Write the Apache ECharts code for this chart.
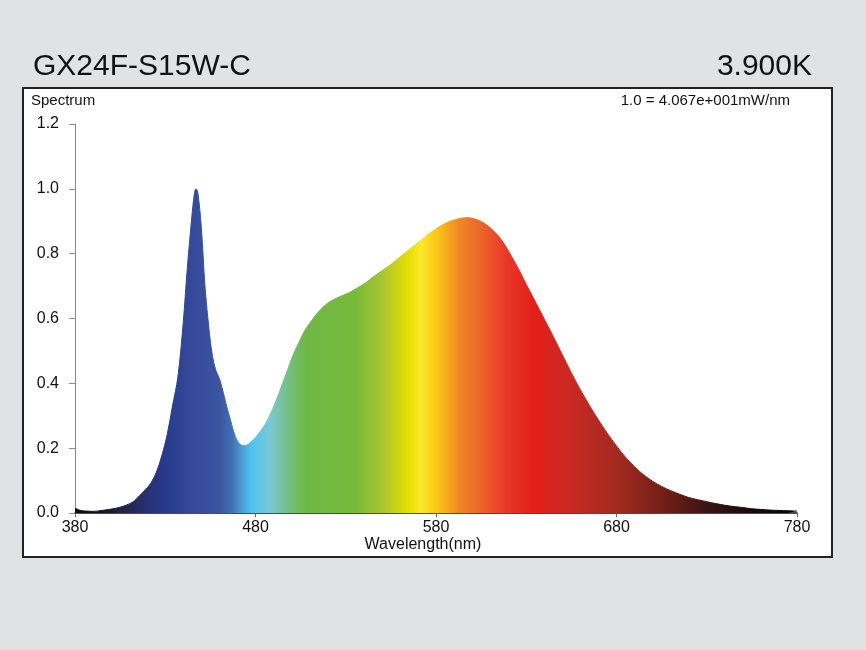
<!DOCTYPE html>
<html lang="en">

<head>
    <meta charset="UTF-8">
    <title>spectrum</title>
    <style>
        html,
        body,
        #chart {
            margin: 0;
            padding: 0;
            overflow: hidden;
            width: 100%;
            height: 100%;
            background: #e1e2e4;
        }
    </style>
</head>

<body>
    <div id="chart"></div>
    <script src="https://cdn.jsdelivr.net/npm/echarts@6/dist/echarts.min.js"></script>
    <script>
        var modelName = "GX24F-S15W-C";
        var cctText = "3.900K";
        var scaleText = "1.0 = 4.067e+001mW/nm";

        // wavelength (nm) and relative intensity
        var wavelengths = [380, 383, 386, 390, 395, 400, 405, 410, 413, 416, 419, 422, 425, 428, 431, 434, 437, 440, 442, 444, 446, 447, 448, 450, 452, 454, 456, 458, 460, 462, 464, 466, 468, 470, 472, 474, 476, 478, 480, 483, 486, 489, 492, 495, 498, 501, 504, 507, 510, 514, 518, 522, 527, 532, 536, 541, 545, 550, 555, 560, 565, 570, 575, 580, 585, 590, 595, 598, 602, 606, 610, 614, 618, 622, 626, 630, 635, 640, 645, 650, 655, 660, 665, 670, 675, 680, 685, 690, 695, 700, 705, 710, 715, 720, 725, 730, 735, 740, 745, 750, 755, 760, 765, 770, 775, 780];
        var intensity = [0.015, 0.008, 0.006, 0.005, 0.008, 0.012, 0.018, 0.028, 0.038, 0.055, 0.072, 0.092, 0.125, 0.175, 0.24, 0.33, 0.42, 0.59, 0.74, 0.87, 0.98, 1.0, 0.99, 0.88, 0.70, 0.58, 0.49, 0.44, 0.415, 0.375, 0.33, 0.29, 0.25, 0.222, 0.21, 0.208, 0.212, 0.222, 0.233, 0.255, 0.28, 0.315, 0.355, 0.40, 0.445, 0.49, 0.525, 0.56, 0.585, 0.615, 0.638, 0.655, 0.668, 0.68, 0.693, 0.71, 0.728, 0.747, 0.767, 0.79, 0.812, 0.835, 0.857, 0.877, 0.893, 0.904, 0.91, 0.911, 0.906, 0.896, 0.88, 0.858, 0.828, 0.79, 0.75, 0.705, 0.652, 0.598, 0.544, 0.488, 0.432, 0.38, 0.332, 0.287, 0.245, 0.207, 0.172, 0.143, 0.118, 0.098, 0.082, 0.069, 0.058, 0.048, 0.041, 0.035, 0.029, 0.024, 0.02, 0.017, 0.013, 0.011, 0.009, 0.008, 0.007, 0.006];

        var xTicks = [380, 480, 580, 680, 780];
        var yTicks = [0, 0.2, 0.4, 0.6, 0.8, 1.0, 1.2];

        // spectral colour bar (wavelength -> colour)
        var colorNm = [380, 395, 405, 418, 430, 445, 460, 467, 472, 478, 488, 498, 508, 535, 550, 565, 572, 580, 592, 603, 618, 634, 654, 682, 710, 728, 750, 780];
        var colorHex = ['#0c0a10', '#14121f', '#231f45', '#272f6f', '#283a8c', '#36499a', '#3b55a1', '#4170b3', '#4b9ad6', '#4fc4ef', '#7cc8d4', '#74bf84', '#6eb843', '#77ba3a', '#a8c530', '#e8e000', '#fbe92e', '#fdc818', '#f08a25', '#ec6a2a', '#e93a2a', '#e31e1a', '#c92a22', '#a02a20', '#6a1d16', '#3f1515', '#1d0c0c', '#090505'];

        var font = "'Liberation Sans', Arial, sans-serif";
        var chart = echarts.init(document.getElementById('chart'));

        var stops = [];
        for (var i = 0; i < colorNm.length; i++) {
            stops.push({ offset: (colorNm[i] - 380) / 400, color: colorHex[i] });
        }
        var seriesData = [];
        for (var j = 0; j < wavelengths.length; j++) {
            seriesData.push([wavelengths[j], intensity[j]]);
        }

        chart.setOption({
            backgroundColor: '#e1e2e4',
            animation: false,
            textStyle: { fontFamily: font },
            graphic: [
                {
                    type: 'rect', z: 0,
                    shape: { x: 23, y: 88, width: 809, height: 469 },
                    style: { fill: '#fff', stroke: '#222', lineWidth: 2 }
                },
                {
                    type: 'text', z: 5, x: 33, y: 67,
                    style: { text: modelName, font: '30px ' + font, fill: '#111', verticalAlign: 'middle' }
                },
                {
                    type: 'text', z: 5, x: 812, y: 67,
                    style: { text: cctText, font: '30px ' + font, fill: '#111', align: 'right', verticalAlign: 'middle' }
                },
                {
                    type: 'text', z: 5, x: 31, y: 101,
                    style: { text: 'Spectrum', font: '15px ' + font, fill: '#111', verticalAlign: 'middle' }
                },
                {
                    type: 'text', z: 5, x: 790, y: 101,
                    style: { text: scaleText, font: '15px ' + font, fill: '#111', align: 'right', verticalAlign: 'middle' }
                },
                {
                    type: 'text', z: 5, x: 423, y: 545,
                    style: { text: 'Wavelength(nm)', font: '16px ' + font, fill: '#111', align: 'center', verticalAlign: 'middle' }
                }
            ],
            grid: { left: 75, right: 69, top: 124, bottom: 137 },
            xAxis: {
                type: 'value',
                min: xTicks[0],
                max: xTicks[xTicks.length - 1],
                interval: 100,
                axisLine: { lineStyle: { color: '#111', width: 1.5 } },
                axisTick: { length: 4, lineStyle: { color: '#666' } },
                axisLabel: { fontSize: 16, color: '#111', margin: 7 },
                splitLine: { show: false }
            },
            yAxis: {
                type: 'value',
                min: yTicks[0],
                max: yTicks[yTicks.length - 1],
                interval: 0.2,
                axisLine: { show: true, lineStyle: { color: '#888', width: 1 } },
                axisTick: { show: true, length: 6, lineStyle: { color: '#888' } },
                axisLabel: {
                    fontSize: 16, color: '#111', margin: 16,
                    formatter: function (v) { return v.toFixed(1); }
                },
                splitLine: { show: false }
            },
            series: [{
                type: 'line',
                data: seriesData,
                smooth: 0.35,
                showSymbol: false,
                z: 3,
                lineStyle: { width: 1, color: new echarts.graphic.LinearGradient(0, 0, 1, 0, stops) },
                areaStyle: { opacity: 1, color: new echarts.graphic.LinearGradient(0, 0, 1, 0, stops) }
            }]
        });
    </script>
</body>

</html>
